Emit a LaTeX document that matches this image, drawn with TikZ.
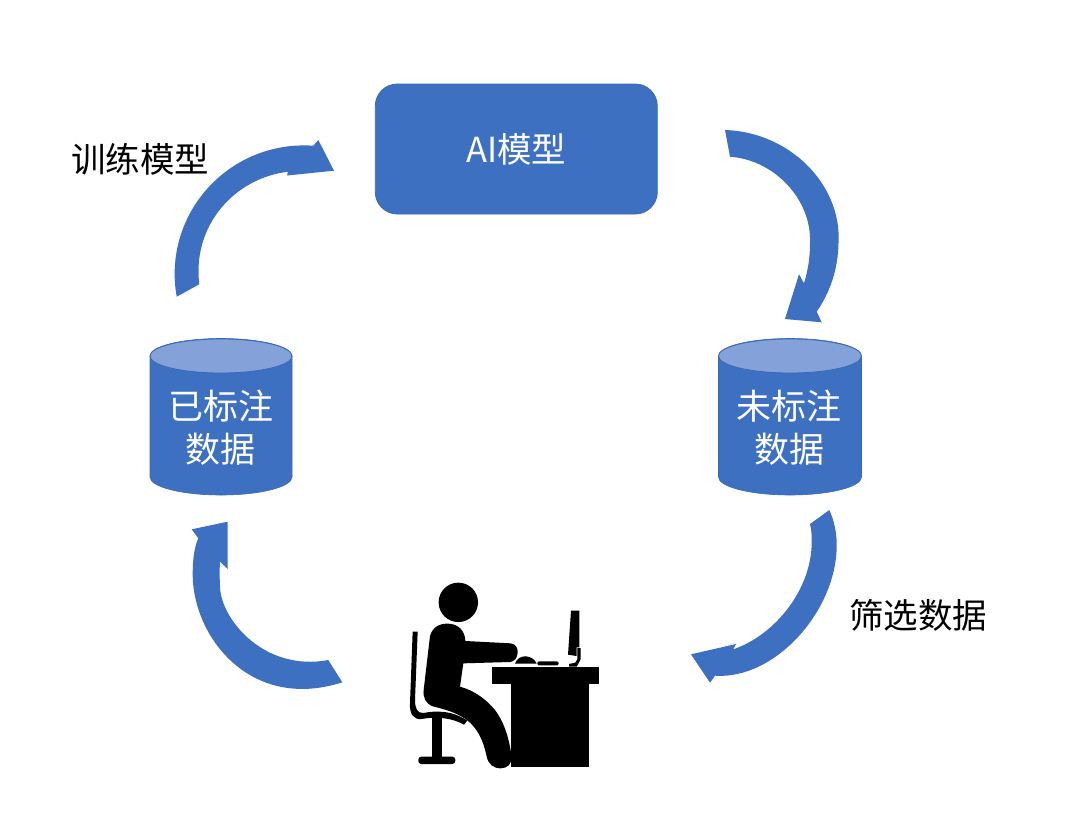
\documentclass[tikz,border=0pt]{standalone}
\usepackage{fontspec}
\setmainfont{Noto Sans CJK SC}
\definecolor{bluefill}{HTML}{3E70C1}
\definecolor{blueedge}{HTML}{3A69B3}
\definecolor{bluetop}{HTML}{84A2D9}
\tikzset{
  flowarrow/.style={fill=bluefill,draw=none},
  aibox/.style={fill=bluefill,draw=blueedge,line width=0.8pt,rounded corners=22pt,minimum width=282pt,minimum height=130pt,inner sep=0pt,text=white,font=\fontsize{34.5}{38}\selectfont},
  cyllabel/.style={text=white,align=center,inner sep=0pt,font=\fontsize{35}{43}\selectfont},
  sidelabel/.style={text=black,inner sep=0pt,font=\fontsize{34.5}{40}\selectfont},
  cylbody/.style={fill=bluefill,draw=blueedge,line width=0.6pt},
  cyltop/.style={fill=bluetop,draw=blueedge,line width=0.8pt},
  silhouette/.style={fill=black,draw=none}
}
\begin{document}
\begin{tikzpicture}[x=1pt,y=-1pt]
\useasboundingbox (0,0) rectangle (1072,820);
\fill[white] (0,0) rectangle (1072,820);

% AI box
\node[aibox] (model) at (516.3,149) {AI模型};

% Cylinders
\draw[cylbody] (150,356) -- (150,477) arc[start angle=180,end angle=360,x radius=71,y radius=-18] -- (292,356) arc[start angle=0,end angle=180,x radius=71,y radius=-17.5] -- cycle;
\draw[cyltop] (221,356) ellipse[x radius=71,y radius=17];
\node[cyllabel] (labeled) at (220.5,428) {已标注\\数据};

\draw[cylbody] (718.5,356) -- (718.5,477) arc[start angle=180,end angle=360,x radius=71.5,y radius=-18] -- (861.5,356) arc[start angle=0,end angle=180,x radius=71.5,y radius=-17.5] -- cycle;
\draw[cyltop] (790,356) ellipse[x radius=71.5,y radius=17];
\node[cyllabel] (unlabeled) at (789,428) {未标注\\数据};

% Side labels
\node[sidelabel] (train) at (140,159) {训练模型};
\node[sidelabel] (select) at (918,615) {筛选数据};

% Arrow: labeled -> model
\fill[flowarrow] (176.7,296.7) .. controls (162,215) and (228,140) .. (313.3,145.7)
  -- (318.3,140) -- (334,170.7) -- (287,175.5) -- (288,171.7)
  .. controls (235,178) and (192,225) .. (199.3,284.3) -- cycle;

% Arrow: model -> unlabeled
\fill[flowarrow] (725,130) .. controls (790,132) and (842,185) .. (838.5,243)
  .. controls (838,270) and (830,292) .. (816.7,311.7)
  -- (821.7,322.3) -- (785,319) -- (799,274.3) -- (804,283.3)
  .. controls (808,270) and (810,258) .. (810,243.3)
  .. controls (812,200) and (775,160) .. (730,156.7) -- cycle;

% Arrow: unlabeled -> person
\fill[flowarrow] (829.3,510) .. controls (834,520) and (836.5,532) .. (836.7,543)
  .. controls (838,610) and (775,680) .. (715,675.7)
  -- (710,682.7) -- (691,654.3) -- (736,644) -- (733.3,649.3)
  .. controls (775,635) and (811,590) .. (811.7,543.3)
  .. controls (811.8,535) and (811.5,530) .. (810,524) -- cycle;

% Arrow: person -> labeled
\fill[flowarrow] (342.3,682.3) .. controls (250,712) and (192,636) .. (192.7,573)
  .. controls (192.8,560) and (194,548) .. (198.3,538.3)
  -- (191.7,529.3) -- (227.7,521.7) -- (227.7,569) -- (220,561.7)
  .. controls (219.5,570) and (219.6,578) .. (220,586.7)
  .. controls (221,620) and (265,672) .. (328.3,660) -- cycle;

% Person at desk
\begin{scope}[shift={(380,560)},x=0.33333pt,y=-0.33333pt]
  \fill[silhouette] (235,127) circle[radius=19.7pt];
  % body
  \fill[silhouette] (150,228) .. controls (158,200) and (180,190) .. (205,191)
    .. controls (235,192) and (255,212) .. (256,243)
    -- (392,250) .. controls (408,252) and (414,265) .. (413,278)
    .. controls (412,295) and (402,305) .. (390,306)
    -- (250,310) -- (240,380)
    .. controls (285,392) and (320,420) .. (345,450)
    .. controls (375,490) and (388,540) .. (395,590)
    .. controls (396,612) and (382,625) .. (362,625)
    .. controls (340,625) and (325,612) .. (320,590)
    .. controls (310,540) and (290,495) .. (245,470)
    .. controls (215,452) and (180,445) .. (155,438)
    .. controls (138,430) and (128,412) .. (131,390) -- cycle;
  % chair
  \fill[silhouette] (98,215) -- (113,215) -- (105,420)
    .. controls (105,445) and (112,460) .. (130,459)
    .. controls (165,452) and (215,450) .. (262,482) -- (252,494)
    .. controls (220,475) and (170,468) .. (125,477)
    .. controls (100,480) and (88,460) .. (90,430) -- cycle;
  \fill[silhouette] (155,470) rectangle (185,592);
  \fill[silhouette,rounded corners=3pt] (115,590) rectangle (226,612);
  % desk
  \fill[silhouette] (336,322) rectangle (658,372);
  \fill[silhouette] (393,372) rectangle (628,622);
  % mouse and keyboard
  \fill[silhouette] (405,311) .. controls (410,295) and (425,288) .. (438,289)
    .. controls (452,290) and (465,298) .. (470,311) -- cycle;
  \fill[silhouette,rounded corners=1.5pt] (472,304) rectangle (536,316);
  % monitor
  \fill[silhouette] (573,152) -- (598,152) -- (598,262) -- (590,262) -- (590,288) -- (564,284) -- cycle;
  \fill[silhouette] (592,264) -- (602,264) -- (602,298) -- (590,320) -- (567,320) -- (567,312) -- (586,308) -- (592,298) -- cycle;
\end{scope}
\end{tikzpicture}
\end{document}
